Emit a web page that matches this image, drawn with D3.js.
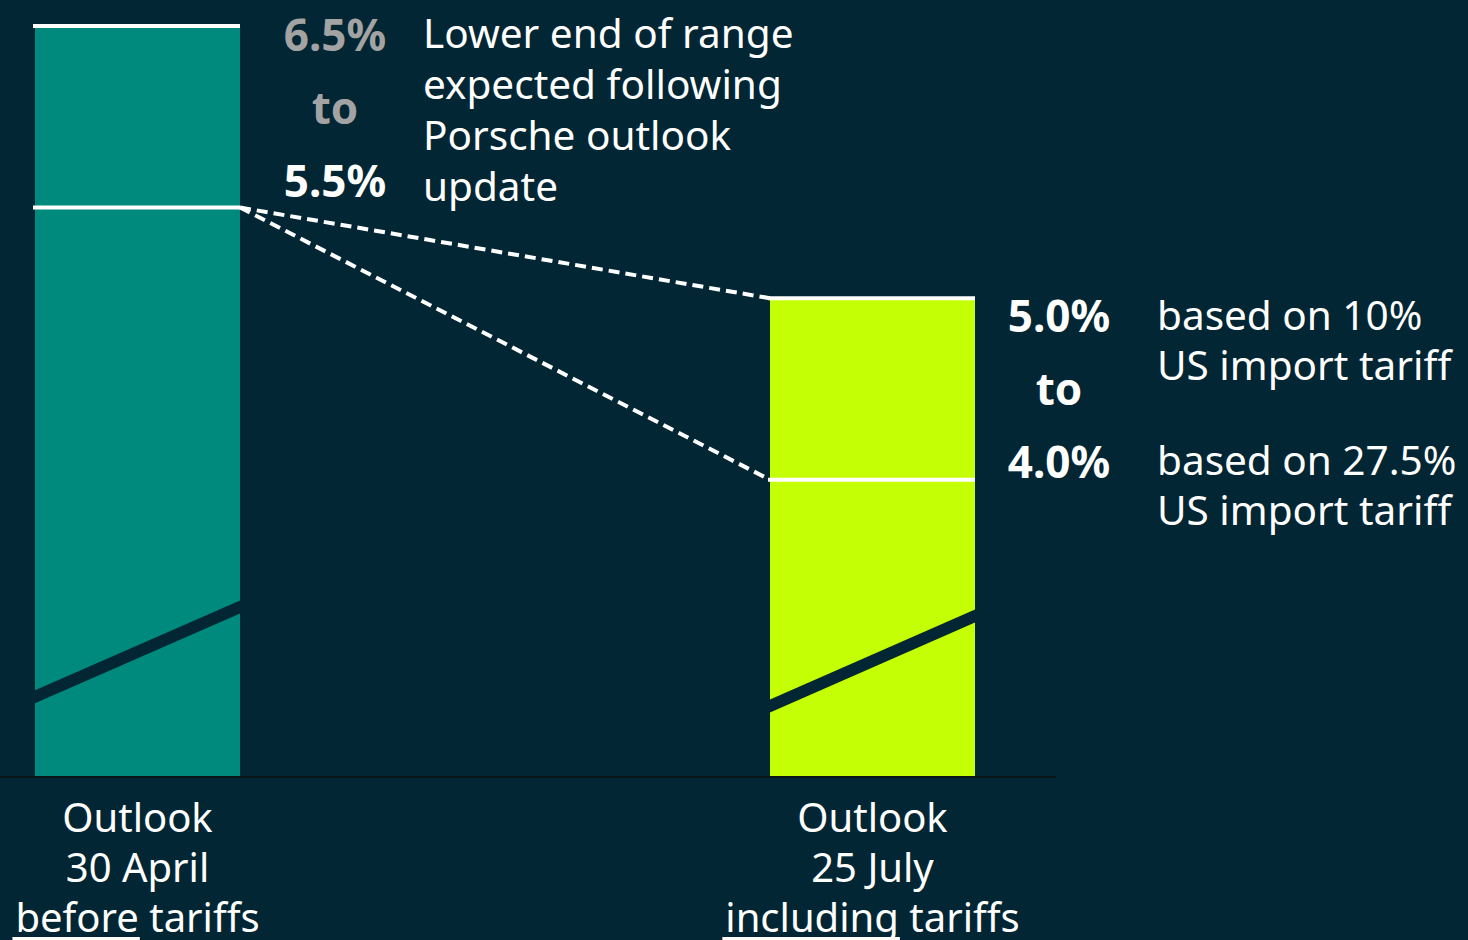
<!DOCTYPE html>
<html>
<head>
<meta charset="utf-8">
<script src="https://cdn.jsdelivr.net/npm/d3@7"></script>
<style>
  html, body { margin: 0; padding: 0; background: #022633; overflow: hidden; }
  svg { display: block; }
  text { font-family: "Noto Sans", "Open Sans", sans-serif; }
</style>
</head>
<body>
<svg id="chart" width="1468" height="940"></svg>
<script>
// Operating return on sales outlook
const categories = ["apr", "jul"];
const categoryLines = [
  ["Outlook", "30 April", "before tariffs"],
  ["Outlook", "25 July", "including tariffs"]
];
const upperValues = [6.5, 5.0];
const lowerValues = [5.5, 4.0];
const upperLabels = ["6.5%", "5.0%"];
const lowerLabels = ["5.5%", "4.0%"];
const notesLeft = ["Lower end of range", "expected following", "Porsche outlook", "update"];
const notesUpper = ["based on 10%", "US import tariff"];
const notesLower = ["based on 27.5%", "US import tariff"];

const BG = "#022633";
const barColors = ["#008a7e", "#c4ff06"];

const svg = d3.select("#chart");
const W = 1468, H = 940;

// value axis starts above zero (broken axis)
const y = d3.scaleLinear().domain([2.368, 6.5]).range([776, 26]);
const x = d3.scalePoint().domain(categories).range([137.5, 872.5]);
const barW = 205;

svg.append("rect").attr("width", W).attr("height", H).attr("fill", BG);

// bars
svg.selectAll("rect.bar").data(categories).join("rect")
  .attr("class", "bar")
  .attr("x", d => x(d) - barW / 2)
  .attr("width", barW)
  .attr("y", (d, i) => y(upperValues[i]))
  .attr("height", (d, i) => y.range()[0] - y(upperValues[i]))
  .attr("fill", (d, i) => barColors[i]);

// axis-break stripe across each bar
const breakLow = [2.84, 2.79];
const breakRise = 0.495;
const stripe = 13;
svg.selectAll("path.break").data(categories).join("path")
  .attr("class", "break")
  .attr("fill", BG)
  .attr("d", (d, i) => {
    const x0 = x(d) - barW / 2, x1 = x(d) + barW / 2;
    const y0 = y(breakLow[i]), y1 = y(breakLow[i] + breakRise);
    return `M${x0},${y0}L${x1},${y1}L${x1},${y1 + stripe}L${x0},${y0 + stripe}Z`;
  });

// range markers
const markers = [];
categories.forEach((c, i) => {
  markers.push({ c, v: upperValues[i] });
  markers.push({ c, v: lowerValues[i] });
});
svg.selectAll("line.marker").data(markers).join("line")
  .attr("class", "marker")
  .attr("x1", d => x(d.c) - barW / 2 - 2)
  .attr("x2", d => x(d.c) + barW / 2)
  .attr("y1", d => y(d.v)).attr("y2", d => y(d.v))
  .attr("stroke", "#ffffff").attr("stroke-width", 4);

// dashed connectors from the lower end of the first range
const fromX = x(categories[0]) + barW / 2, toX = x(categories[1]) - barW / 2;
[upperValues[1], lowerValues[1]].forEach(v => {
  svg.append("line")
    .attr("x1", fromX).attr("y1", y(lowerValues[0]))
    .attr("x2", toX).attr("y2", y(v))
    .attr("stroke", "#ffffff").attr("stroke-width", 4)
    .attr("stroke-dasharray", "11,6");
});

// baseline
svg.append("line")
  .attr("x1", 0).attr("x2", 1056)
  .attr("y1", 777).attr("y2", 777)
  .attr("stroke", "#0a1419").attr("stroke-width", 2);

// range value labels
function rangeLabel(cx, i, topColor, yTop) {
  const g = svg.append("g").attr("text-anchor", "middle")
    .attr("font-weight", 700).attr("font-size", 44);
  g.append("text").attr("x", cx).attr("y", yTop).attr("fill", topColor).text(upperLabels[i]);
  g.append("text").attr("x", cx).attr("y", yTop + 73).attr("fill", topColor).text("to");
  g.append("text").attr("x", cx).attr("y", yTop + 146).attr("fill", "#ffffff").text(lowerLabels[i]);
}
rangeLabel(335, 0, "#a3a3a3", 51);   // upper end of the earlier range greyed out
rangeLabel(1059, 1, "#ffffff", 332);

// notes
function note(lines, x0, y0, lh) {
  const t = svg.append("text").attr("fill", "#ffffff").attr("font-size", 40.5);
  lines.forEach((s, k) => t.append("tspan").attr("x", x0).attr("y", y0 + k * lh).text(s));
}
note(notesLeft, 423, 48, 51);
note(notesUpper, 1157, 330, 50);
note(notesLower, 1157, 475, 50);

// category labels, first word of the last line underlined
categories.forEach((c, i) => {
  const lines = categoryLines[i];
  lines.forEach((s, k) => {
    const t = svg.append("text").attr("fill", "#ffffff").attr("font-size", 40)
      .attr("text-anchor", "middle")
      .attr("x", x(c)).attr("y", 832 + k * 50).text(s);
    if (k === lines.length - 1) {
      const node = t.node();
      const n = s.split(" ")[0].length;
      const x0 = node.getStartPositionOfChar(0).x;
      const x1 = node.getEndPositionOfChar(n - 1).x;
      svg.append("line")
        .attr("x1", x0 - 3).attr("x2", x1 + 1)
        .attr("y1", 938.5).attr("y2", 938.5)
        .attr("stroke", "#ffffff").attr("stroke-width", 3);
    }
  });
});
</script>
</body>
</html>
